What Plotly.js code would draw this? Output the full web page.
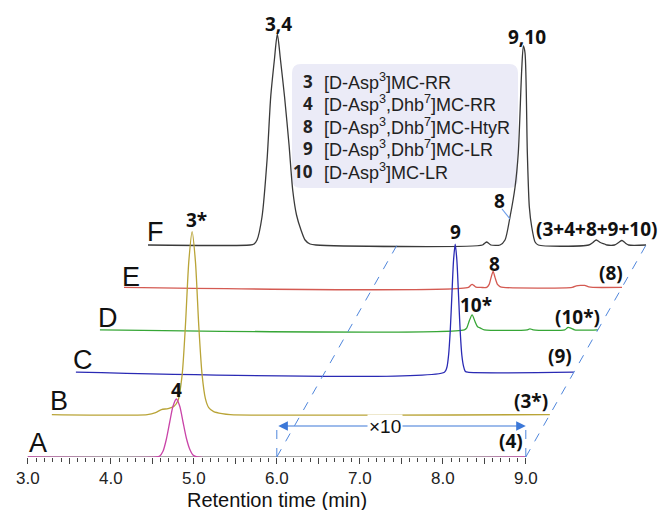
<!DOCTYPE html>
<html><head><meta charset="utf-8">
<script src="https://cdn.plot.ly/plotly-3.0.1.min.js"></script>
<style>html,body{margin:0;padding:0;background:#fff}#chart{width:670px;height:510px}</style>
</head><body><div id="chart"></div>
<script>
// ---- Data: retention time (min) and detector signal (a.u.) for each chromatogram ----
const traceNames = ['A','B','C','D','E','F'];
const traceColors = ['#c944a8','#b9a437','#2a2ab4','#36a636','#d45a52','#3a3a3a'];
const traceLabels = ['(4)','(3*)','(9)','(10*)','(8)','(3+4+8+9+10)'];

const tA = [3.0, 4.55, 4.59, 4.63, 4.67, 4.71, 4.75, 4.79, 4.83, 4.87, 4.91, 4.95, 4.99, 5.04, 9.0];
const yA = [0,   0,    1,    6,    18,   35,   51,   58,   51,   35,   19,   8,    2,    0,    0];

const tB = [3.0, 4.15, 4.25, 4.32, 4.40, 4.47, 4.52, 4.57, 4.61, 4.65, 4.69, 4.73, 4.77, 4.81, 4.85, 4.89, 4.95, 5.05, 5.15, 9.0];
const yB = [0,   0,    2,    5,    6,    8,    14,   40,   90,   153,  183,  153,  89,   40,   16,   7,    3,    1,    0,    0];

const tC = [3.0, 7.44, 7.47, 7.49, 7.51, 7.53, 7.55, 7.57, 7.59, 7.61, 7.63, 7.65, 7.67, 7.69, 7.72, 9.0];
const yC = [0,   0,    5,    17,   41,   77,   112,  128,  112,  77,   41,   17,   6,    1,    0,    0];

const tD = [3.0, 7.39, 7.42, 7.45, 7.484, 7.52, 7.55, 7.59, 7.63, 8.15, 8.18, 8.22, 8.60, 8.64, 8.68, 8.72, 9.0];
const yD = [0,   0,    2,    9,    15,    8,    3,    1.5,  0,    0,    1,    0,    0,    2.5,  1.5,  0,    0];

const tE = [3.0, 7.15, 7.175, 7.195, 7.215, 7.24, 7.30, 7.37, 7.40, 7.42, 7.447, 7.47, 7.50, 7.53, 7.57, 8.40, 8.45, 8.50, 8.55, 8.60, 8.65, 9.0];
const yE = [0,   0,    2,     3,     2,     0.3,  0,    0,    3,    9,    16,    10,   3,    0.8,  0,    0,    1.5,  2,    2,    0.5,  0,    0];

const tF = [3.0, 4.229, 4.277, 4.313, 4.373, 4.434, 4.478, 4.522, 4.558, 4.596, 4.645, 4.699, 4.743, 4.789, 4.843, 4.892, 4.952, 5.024,
            7.03, 7.06, 7.08, 7.10, 7.13, 7.241, 7.301, 7.361, 7.422, 7.461, 7.502, 7.522, 7.542, 7.570, 7.594, 7.623, 7.663, 7.702,
            8.31, 8.36, 8.40, 8.45, 8.50, 8.53, 8.62, 8.67, 8.71, 8.75, 8.79, 9.0];
const yF = [0,   0,     1,     5,     28,    85,    148,   185,   211,   185,   148,   100,   55,    30,    15,    5,     1,     0,
            0,    2,    3,    2,    0,    0,     5,     28,    58,    92,    175,   199,   192,   92,    38,    18,    3,     0,
            0,    2.5,  5,    2.5,  1,    0,    0,    2.5,  4.5,  2,    0,    0];

const seriesT = [tA, tB, tC, tD, tE, tF];
const seriesY = [yA, yB, yC, yD, yE, yF];

const tickVals = [3.0, 3.5, 4.0, 4.5, 5.0, 5.5, 6.0, 6.5, 7.0, 7.5, 8.0, 8.5, 9.0];
const tickText = ['3.0', '', '4.0', '', '5.0', '', '6.0', '', '7.0', '', '8.0', '', '9.0'];

// ---- Layout geometry (offset of stacked traces) ----
const DX = 0.2897;   // horizontal shift per trace (min)
const DY = 42.4;     // vertical shift per trace (a.u.)
const X0 = 2.665, PXM = 83;  // axis mapping
const px2x = px => X0 + px / PXM;
const py2y = py => 457 - py;

const FONT = '"Liberation Sans", Arial, sans-serif';
const BFONT = '"Open Sans", "Liberation Sans", Arial, sans-serif';
const traces = [];
for (let k = 5; k >= 0; k--) {
  traces.push({
    x: seriesT[k].map(t => t + k * DX),
    y: seriesY[k].map(v => v + k * DY),
    type: 'scatter', mode: 'lines',
    line: {color: traceColors[k], width: 1.3, shape: 'spline', smoothing: 0.7},
    hoverinfo: 'skip', showlegend: false
  });
}

const minorVals = [];
for (let i = 30; i <= 90; i++) { if (i % 5 !== 0) minorVals.push(i / 10); }

// rounded rectangle path for compound key
function roundRect(x1, y1, x2, y2, r) {
  const X = px2x, Y = py2y;
  return `M${X(x1 + r)},${Y(y1)} L${X(x2 - r)},${Y(y1)} Q${X(x2)},${Y(y1)} ${X(x2)},${Y(y1 + r)} ` +
         `L${X(x2)},${Y(y2 - r)} Q${X(x2)},${Y(y2)} ${X(x2 - r)},${Y(y2)} L${X(x1 + r)},${Y(y2)} ` +
         `Q${X(x1)},${Y(y2)} ${X(x1)},${Y(y2 - r)} L${X(x1)},${Y(y1 + r)} Q${X(x1)},${Y(y1)} ${X(x1 + r)},${Y(y1)} Z`;
}

const blue = '#4f86dc';
const shapes = [
  {type: 'path', path: roundRect(292, 64, 518, 188, 9), fillcolor: '#ebebf7', line: {width: 0}, layer: 'below'},
  {type: 'line', x0: 3.0, x1: 9.0, y0: 0, y1: 0, line: {color: '#555', width: 1.2}, layer: 'below'},
  {type: 'line', x0: 6.0, x1: 6.0 + 5 * DX, y0: 0, y1: 5 * DY, line: {color: blue, width: 1, dash: 'dash'}},
  {type: 'line', x0: 9.0, x1: 9.0 + 5 * DX, y0: 0, y1: 5 * DY, line: {color: blue, width: 1, dash: 'dash'}},
  {type: 'line', x0: 6.0, x1: 6.0, y0: 0, y1: 31, line: {color: blue, width: 1, dash: 'dash'}},
  {type: 'line', x0: 9.0, x1: 9.0, y0: 0, y1: 31, line: {color: blue, width: 1, dash: 'dash'}},
  {type: 'line', x0: px2x(502), x1: px2x(510), y0: py2y(209), y1: py2y(219), line: {color: '#6d9eeb', width: 1.2}}
];

function lab(text, px, py, size, bold, extra) {
  return Object.assign({
    text: bold ? '<b>' + text + '</b>' : text, x: px2x(px), y: py2y(py), xref: 'x', yref: 'y',
    showarrow: false, font: {family: bold ? BFONT : FONT, size: size, color: '#111'}, xanchor: 'center', yanchor: 'middle'
  }, extra || {});
}

const annotations = [
  // double arrow ×10
  {x: 9.0, y: 31, ax: 6.0, ay: 31, xref: 'x', yref: 'y', axref: 'x', ayref: 'y', text: '',
   showarrow: true, arrowhead: 2, startarrowhead: 2, arrowside: 'end+start', arrowsize: 1.6, startarrowsize: 1.6,
   arrowwidth: 1.2, arrowcolor: '#3c78d8'},
  lab('×10', 385, 426, 19, false, {bgcolor: '#ffffff', borderpad: 1}),
  // peak labels
  lab('3,4', 278, 24, 19, true),
  lab('9,10', 527, 37, 19, true),
  lab('8', 499, 201, 19, true),
  lab('3*', 196, 220, 19, true),
  lab('9', 455, 232, 19, true),
  lab('8', 494, 264, 19, true),
  lab('10*', 476, 305, 19, true),
  lab('4', 176.5, 390, 19, true),
  // trace end labels
  lab(traceLabels[5], 534, 229, 19, true, {xanchor: 'left'}),
  lab(traceLabels[4], 611, 273, 19, true),
  lab(traceLabels[3], 577, 317, 19, true),
  lab(traceLabels[2], 560, 356, 19, true),
  lab(traceLabels[1], 531, 401, 19, true),
  lab(traceLabels[0], 510.5, 441, 19, true),
  // axis title
  {text: 'Retention time (min)', x: 6.0, xref: 'x', y: -(500 - 457) / 457, yref: 'paper', showarrow: false,
   xanchor: 'center', yanchor: 'middle', font: {family: FONT, size: 20, color: '#111'}}
];
// trace letters
const letterPos = [[38, 443], [59, 401], [83, 360], [108, 318], [131, 277], [155.5, 232]];
traceNames.forEach((n, k) => annotations.push(lab(n, letterPos[k][0], letterPos[k][1], 27, false)));

// compound key
const keyNums = ['3', '4', '8', '9', '10'];
const keyNames = ['[D-Asp<sup>3</sup>]MC-RR', '[D-Asp<sup>3</sup>,Dhb<sup>7</sup>]MC-RR', '[D-Asp<sup>3</sup>,Dhb<sup>7</sup>]MC-HtyR',
                  '[D-Asp<sup>3</sup>,Dhb<sup>7</sup>]MC-LR', '[D-Asp<sup>3</sup>]MC-LR'];
keyNums.forEach((n, i) => {
  const py = 81 + i * 22.5;
  annotations.push(lab(n, 315, py, 17, true, {xanchor: 'right', font: {family: BFONT, size: 17, color: '#222'}}));
  annotations.push(lab(keyNames[i], 322, py, 18, false, {xanchor: 'left', font: {family: FONT, size: 18, color: '#222'}}));
});

const layout = {
  width: 670, height: 510,
  margin: {l: 0, r: 0, t: 0, b: 53, pad: 0},
  paper_bgcolor: '#fff', plot_bgcolor: 'rgba(0,0,0,0)',
  showlegend: false,
  xaxis: {
    range: [X0, X0 + 670 / PXM], showgrid: false, zeroline: false, showline: false,
    tickmode: 'array', tickvals: tickVals, ticktext: tickText,
    ticks: 'outside', ticklen: 6, tickwidth: 1, tickcolor: '#444',
    tickfont: {family: FONT, size: 17, color: '#222'},
    minor: {tickmode: 'array', tickvals: minorVals, ticks: 'outside', ticklen: 4, tickwidth: 1, tickcolor: '#444', showgrid: false},
    fixedrange: true
  },
  yaxis: {range: [0, 457], visible: false, showgrid: false, zeroline: false, fixedrange: true},
  shapes: shapes, annotations: annotations
};
Plotly.newPlot('chart', traces, layout, {staticPlot: true, displayModeBar: false});
</script></body></html>
